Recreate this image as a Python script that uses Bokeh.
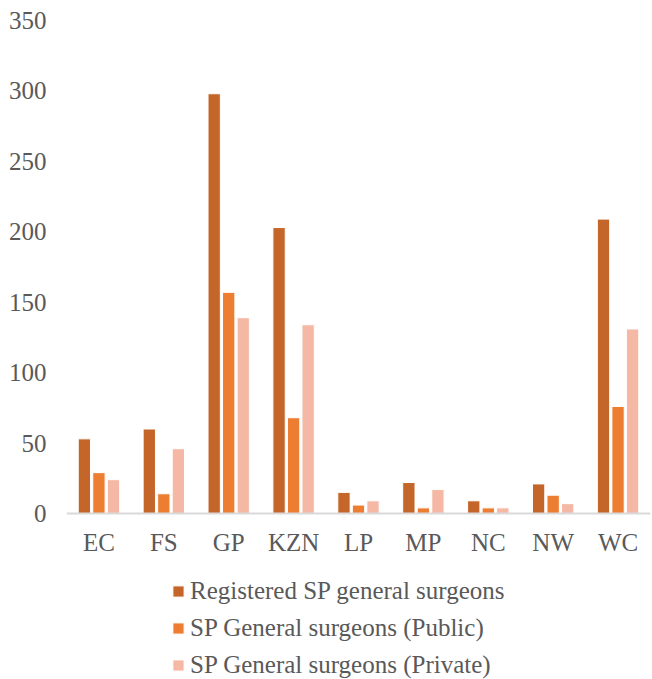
from bokeh.plotting import figure
from bokeh.models import (FactorRange, Range1d, Legend, LegendItem, FixedTicker,
                          ColumnDataSource)
from bokeh.transform import dodge
from bokeh.embed import file_html
from bokeh.resources import INLINE

provinces = ["EC", "FS", "GP", "KZN", "LP", "MP", "NC", "NW", "WC"]
registered = [53, 60, 298, 203, 15, 22, 9, 21, 209]
public = [29, 14, 157, 68, 6, 4, 4, 13, 76]
private = [24, 46, 139, 134, 9, 17, 4, 7, 131]
series_names = [
    "Registered SP general surgeons",
    "SP General surgeons (Public)",
    "SP General surgeons (Private)",
]
y_ticks = [0, 50, 100, 150, 200, 250, 300, 350]

colors = ["#C4652A", "#ED7D31", "#F4B8A5"]
FONT = "Liberation Serif"
TXT = "#595959"

src = ColumnDataSource(dict(province=provinces, registered=registered,
                            public=public, private=private))

# frame extends below zero so that the category axis and legend sit inside it
TOP, ZERO_PX, BOTTOM = 20, 513, 679
y_min = -(BOTTOM - ZERO_PX) * 350 / (ZERO_PX - TOP)

p = figure(x_range=FactorRange(*provinces), y_range=Range1d(y_min, 350),
           frame_width=584, frame_height=BOTTOM - TOP, output_backend="svg",
           toolbar_location=None, min_border_left=66, min_border_right=2,
           min_border_top=TOP, min_border_bottom=0)

offsets = [-0.224, 0.0, 0.224]
keys = ["registered", "public", "private"]
renderers = []
for k, off, c in zip(keys, offsets, colors):
    r = p.vbar(x=dodge("province", off, range=p.x_range), top=k, bottom=0, width=0.19,
               source=src, fill_color=c, line_color="white", line_width=1)
    renderers.append(r)

p.xgrid.visible = False
p.ygrid.visible = False
p.outline_line_color = None

p.yaxis.ticker = FixedTicker(ticks=y_ticks)
p.yaxis.axis_line_color = None
p.yaxis.major_tick_line_color = None
p.yaxis.minor_tick_line_color = None
p.yaxis.major_tick_out = 0
p.yaxis.major_label_standoff = 20
p.yaxis.major_label_text_font = FONT
p.yaxis.major_label_text_font_size = "25px"
p.yaxis.major_label_text_color = TXT

p.xaxis.fixed_location = 0
p.xaxis.axis_line_color = "#D9D9D9"
p.xaxis.axis_line_width = 2
p.xaxis.major_tick_line_color = None
p.xaxis.major_tick_out = 0
p.xaxis.major_label_standoff = 15
p.xaxis.major_label_text_font = FONT
p.xaxis.major_label_text_font_size = "25px"
p.xaxis.major_label_text_color = TXT

legend = Legend(items=[LegendItem(label=n, renderers=[r]) for n, r in zip(series_names, renderers)],
                location=(105, 0), orientation="vertical")
legend.border_line_color = None
legend.background_fill_alpha = 0
legend.label_text_font = FONT
legend.label_text_font_size = "25px"
legend.label_text_color = TXT
legend.glyph_width = 14
legend.glyph_height = 14
legend.label_standoff = 5
legend.label_height = 29
legend.spacing = 8
legend.padding = 0
legend.margin = 0
p.add_layout(legend, "center")

open("out.html", "w").write(file_html(p, INLINE))
